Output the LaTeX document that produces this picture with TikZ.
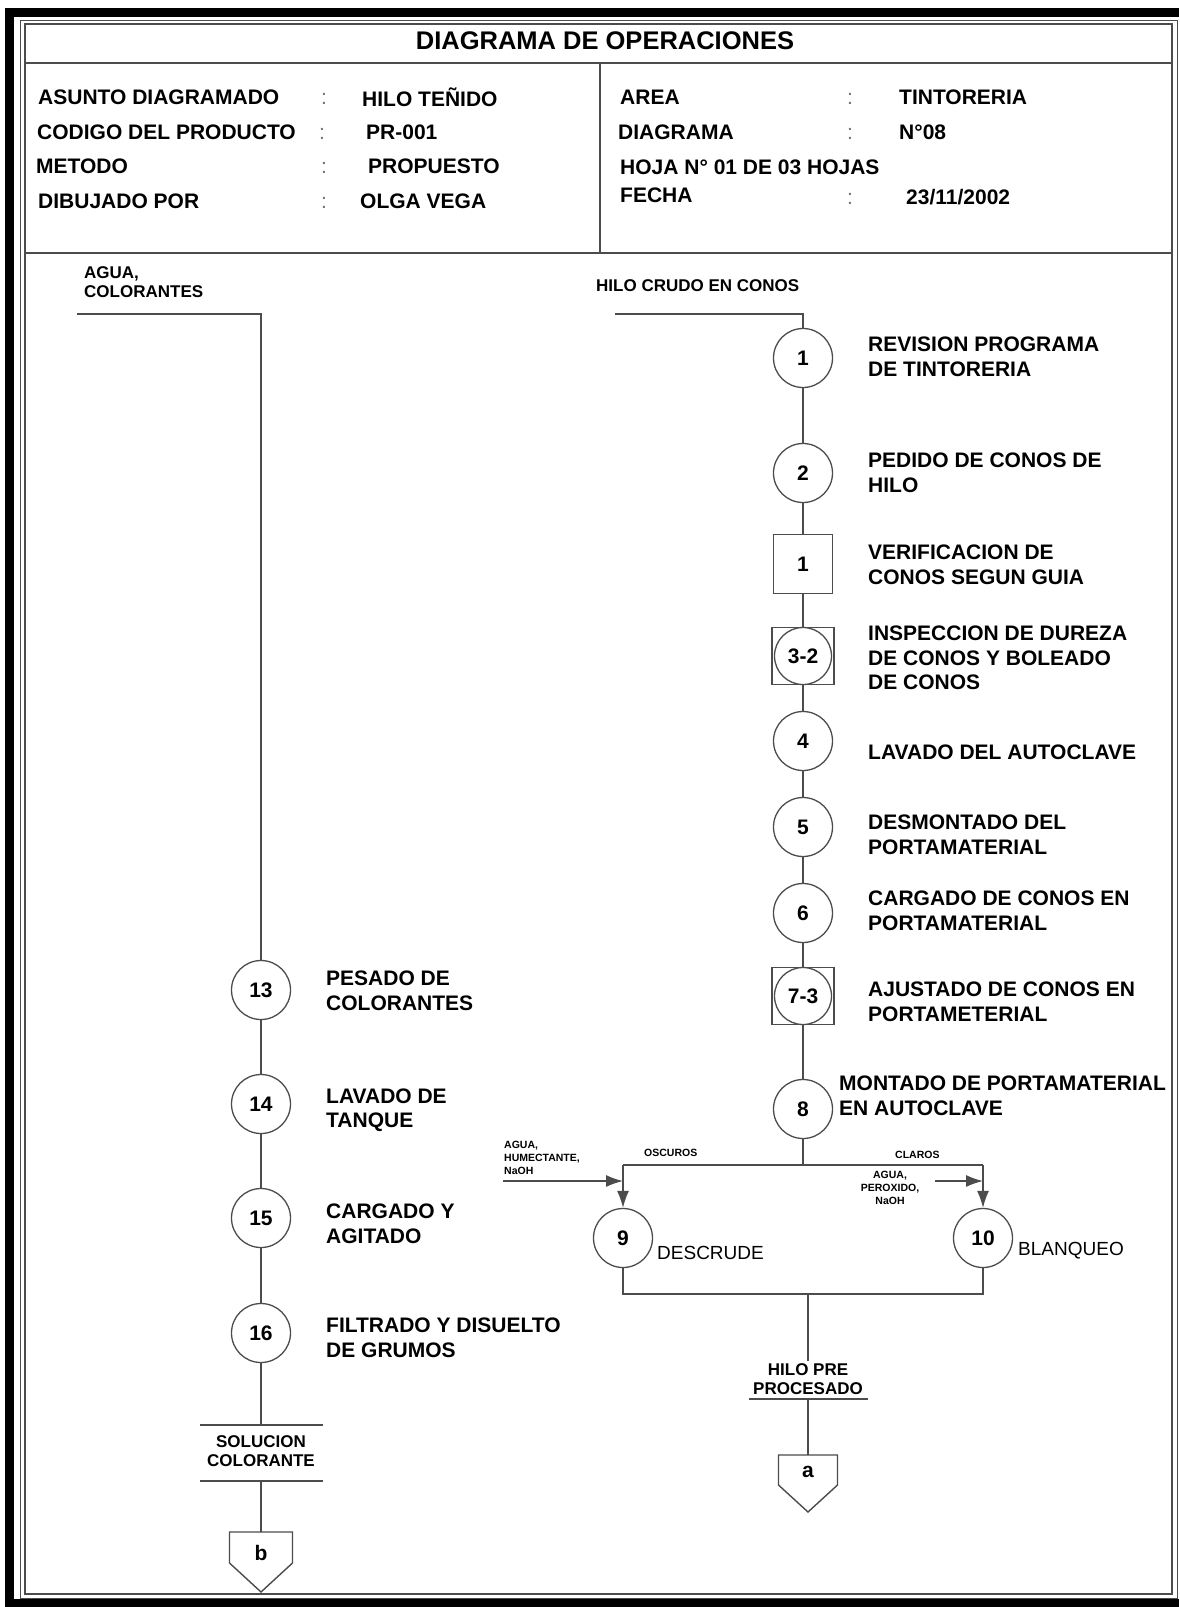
\documentclass[tikz,border=0pt]{standalone}
\usepackage{fontspec}
\setmainfont{Liberation Sans}
\usetikzlibrary{arrows.meta}

\begin{document}
\begin{tikzpicture}[x=1pt,y=-1pt]
        \tikzstyle{opstyle}=[shape=circle,draw=black!70,line width=1.3pt,minimum size=59pt,inner sep=0pt,fill=white,font=\fontsize{21}{21}\selectfont\bfseries]
        \tikzstyle{inspstyle}=[shape=rectangle,draw=black!70,line width=1.3pt,minimum width=59pt,minimum height=59pt,inner sep=0pt,font=\fontsize{21}{21}\selectfont\bfseries]
        \tikzstyle{headstyle}=[anchor=west,inner sep=0pt,font=\fontsize{21}{21}\selectfont\bfseries]
        \tikzstyle{colonstyle}=[anchor=west,inner sep=0pt,text=black!55,font=\fontsize{21}{21}\selectfont]
        \tikzstyle{txtstyle}=[anchor=west,align=left,inner sep=0pt,font=\fontsize{21}{24.5}\selectfont\bfseries]
        \tikzstyle{iostyle}=[inner sep=2pt,font=\fontsize{17}{19.5}\selectfont\bfseries]
        \tikzstyle{smallstyle}=[inner sep=0pt,font=\fontsize{10.5}{13}\selectfont\bfseries]
        \tikzstyle{flowline}=[draw=black!70,line width=1.4pt]
        \tikzstyle{arrowline}=[flowline,-{Latex[length=17pt,width=12pt]}]
        \useasboundingbox (0,0) rectangle (1179,1607);

        % frame of the sheet
        \draw[line width=9pt] (1179,12) -- (9,12) -- (9,1603) -- (1179,1603);
        \draw[black!70, line width=1pt] (20,20) rectangle (1177,1598);
        \draw[black!70, line width=1.2pt] (25,24) rectangle (1172,1594);
        \draw[black!70, line width=1.2pt] (25,63) -- (1172,63);
        \draw[black!70, line width=1.2pt] (25,253) -- (1172,253);
        \draw[black!70, line width=1.2pt] (600,63) -- (600,253);

        % header
        \node[font=\fontsize{25.5}{25.5}\selectfont\bfseries] (title) at (605,41) {DIAGRAMA DE OPERACIONES};

        \node[headstyle] (asunto) at (38,97) {ASUNTO DIAGRAMADO};
        \node[colonstyle] (c1) at (321,99) {:};
        \node[headstyle] (asuntov) at (362,97) {HILO TEÑIDO};
        \node[headstyle] (codigo) at (37,132) {CODIGO DEL PRODUCTO};
        \node[colonstyle] (c2) at (319,134) {:};
        \node[headstyle] (codigov) at (366,132) {PR-001};
        \node[headstyle] (metodo) at (36,166) {METODO};
        \node[colonstyle] (c3) at (321,168) {:};
        \node[headstyle] (metodov) at (368,166) {PROPUESTO};
        \node[headstyle] (dibujo) at (38,201) {DIBUJADO POR};
        \node[colonstyle] (c4) at (321,203) {:};
        \node[headstyle] (dibujov) at (360,201) {OLGA VEGA};

        \node[headstyle] (area) at (620,97) {AREA};
        \node[colonstyle] (c5) at (847,99) {:};
        \node[headstyle] (areav) at (899,97) {TINTORERIA};
        \node[headstyle] (diag) at (618,132) {DIAGRAMA};
        \node[colonstyle] (c6) at (847,134) {:};
        \node[headstyle] (diagv) at (899,132) {N°08};
        \node[headstyle] (hoja) at (620,167) {HOJA N° 01 DE 03 HOJAS};
        \node[headstyle] (fecha) at (620,195) {FECHA};
        \node[colonstyle] (c7) at (847,199) {:};
        \node[headstyle] (fechav) at (906,197) {23/11/2002};

        % right column: hilo crudo
        \node[iostyle, anchor=west, inner sep=0pt] (crudo) at (596,286) {HILO CRUDO EN CONOS};
        \coordinate (crudoin) at (615,314);

        \node[opstyle] (op1) at (803,358) {1};
        \node[opstyle] (op2) at (803,473) {2};
        \node[inspstyle] (insp1) at (803,564) {1};
        \node[inspstyle, minimum width=62pt, minimum height=57pt] (op3box) at (803,656) {};
        \node[opstyle, minimum size=57pt] (op3) at (803,656) {3-2};
        \node[opstyle] (op4) at (803,741) {4};
        \node[opstyle] (op5) at (803,827) {5};
        \node[opstyle] (op6) at (803,913) {6};
        \node[inspstyle, minimum width=62pt, minimum height=57pt] (op7box) at (803,996) {};
        \node[opstyle, minimum size=57pt] (op7) at (803,996) {7-3};
        \node[opstyle] (op8) at (803,1109) {8};

        \node[txtstyle] (t1) at (868,357) {REVISION PROGRAMA\\DE TINTORERIA};
        \node[txtstyle] (t2) at (868,473) {PEDIDO DE CONOS DE\\HILO};
        \node[txtstyle] (ti1) at (868,565) {VERIFICACION DE\\CONOS SEGUN GUIA};
        \node[txtstyle] (t3) at (868,658) {INSPECCION DE DUREZA\\DE CONOS Y BOLEADO\\DE CONOS};
        \node[txtstyle] (t4) at (868,752) {LAVADO DEL AUTOCLAVE};
        \node[txtstyle] (t5) at (868,835) {DESMONTADO DEL\\PORTAMATERIAL};
        \node[txtstyle] (t6) at (868,911) {CARGADO DE CONOS EN\\PORTAMATERIAL};
        \node[txtstyle] (t7) at (868,1002) {AJUSTADO DE CONOS EN\\PORTAMETERIAL};
        \node[txtstyle] (t8) at (839,1096) {MONTADO DE PORTAMATERIAL\\EN AUTOCLAVE};

        \draw[flowline] (crudoin) -| (op1);
        \draw[flowline] (op1) -- (op2);
        \draw[flowline] (op2) -- (insp1);
        \draw[flowline] (insp1) -- (op3box);
        \draw[flowline] (op3box) -- (op4);
        \draw[flowline] (op4) -- (op5);
        \draw[flowline] (op5) -- (op6);
        \draw[flowline] (op6) -- (op7box);
        \draw[flowline] (op7box) -- (op8);

        % split into oscuros and claros
        \coordinate (split) at (803,1165);
        \coordinate (splitL) at (623,1165);
        \coordinate (splitR) at (983,1165);
        \node[opstyle] (op9) at (623,1238) {9};
        \node[opstyle] (op10) at (983,1238) {10};
        \node[smallstyle, anchor=west] (osc) at (644,1153) {OSCUROS};
        \node[smallstyle, anchor=west] (cla) at (895,1155) {CLAROS};
        \node[smallstyle, anchor=west, align=left] (in9txt) at (504,1158) {AGUA,\\HUMECTANTE,\\NaOH};
        \node[smallstyle, align=center] (in10txt) at (890,1188) {AGUA,\\PEROXIDO,\\NaOH};
        \coordinate (in9) at (503,1181);
        \coordinate (in10) at (935,1181);
        \node[anchor=west, inner sep=0pt, font=\fontsize{19}{19}\selectfont] (t9) at (657,1253) {DESCRUDE};
        \node[anchor=west, inner sep=0pt, font=\fontsize{19}{19}\selectfont] (t10) at (1018,1251) {BLANQUEO};

        \draw[flowline] (op8) -- (split);
        \draw[flowline] (splitL) -- (splitR);
        \draw[arrowline] (splitL) -- (op9);
        \draw[arrowline] (splitR) -- (op10);
        \draw[arrowline] (in9) -- (in9 -| op9);
        \draw[arrowline] (in10) -- (in10 -| op10);

        % join and hilo pre procesado
        \coordinate (join) at (808,1294);
        \draw[flowline] (op9) |- (join) -| (op10);
        \node[iostyle, align=center] (pre) at (808,1379) {HILO PRE\\PROCESADO};
        \coordinate (preL) at (749,1399);
        \coordinate (preR) at (868,1399);
        \coordinate (preB) at (808,1399);
        \draw[flowline] (join) -- (pre);
        \draw[flowline] (preL) -- (preR);

        \node[inner sep=0pt, font=\fontsize{21}{21}\selectfont\bfseries] (pa) at (808,1472) {a};
        \coordinate (paT) at (808,1455);
        \draw[flowline] (preB) -- (paT);
        \draw[flowline] (paT) -- ++(29.5,0) -- ++(0,30) -- ++(-29.5,27) -- ++(-29.5,-27) -- ++(0,-30) -- cycle;

        % left column: colorantes
        \node[iostyle, anchor=west, align=left, inner sep=0pt] (agua) at (84,282) {AGUA,\\COLORANTES};
        \coordinate (aguain) at (77,314);

        \node[opstyle] (op13) at (261,990) {13};
        \node[opstyle] (op14) at (261,1104) {14};
        \node[opstyle] (op15) at (261,1218) {15};
        \node[opstyle] (op16) at (261,1333) {16};

        \node[txtstyle] (t13) at (326,991) {PESADO DE\\COLORANTES};
        \node[txtstyle] (t14) at (326,1110) {LAVADO DE\\TANQUE};
        \node[txtstyle] (t15) at (326,1224) {CARGADO Y\\AGITADO};
        \node[txtstyle] (t16) at (326,1338) {FILTRADO Y DISUELTO\\DE GRUMOS};

        \draw[flowline] (aguain) -| (op13);
        \draw[flowline] (op13) -- (op14);
        \draw[flowline] (op14) -- (op15);
        \draw[flowline] (op15) -- (op16);

        \node[iostyle, align=center] (sol) at (261,1451) {SOLUCION\\COLORANTE};
        \coordinate (solT) at (261,1425);
        \coordinate (solTL) at (200,1425);
        \coordinate (solTR) at (323,1425);
        \coordinate (solB) at (261,1481);
        \coordinate (solBL) at (200,1481);
        \coordinate (solBR) at (323,1481);
        \draw[flowline] (op16) -- (solT);
        \draw[flowline] (solTL) -- (solTR);
        \draw[flowline] (solBL) -- (solBR);

        \node[inner sep=0pt, font=\fontsize{21}{21}\selectfont\bfseries] (pb) at (261,1553) {b};
        \coordinate (pbT) at (261,1532);
        \draw[flowline] (solB) -- (pbT);
        \draw[flowline] (pbT) -- ++(31.5,0) -- ++(0,31) -- ++(-31.5,29) -- ++(-31.5,-29) -- ++(0,-31) -- cycle;
    \end{tikzpicture}
\end{document}
